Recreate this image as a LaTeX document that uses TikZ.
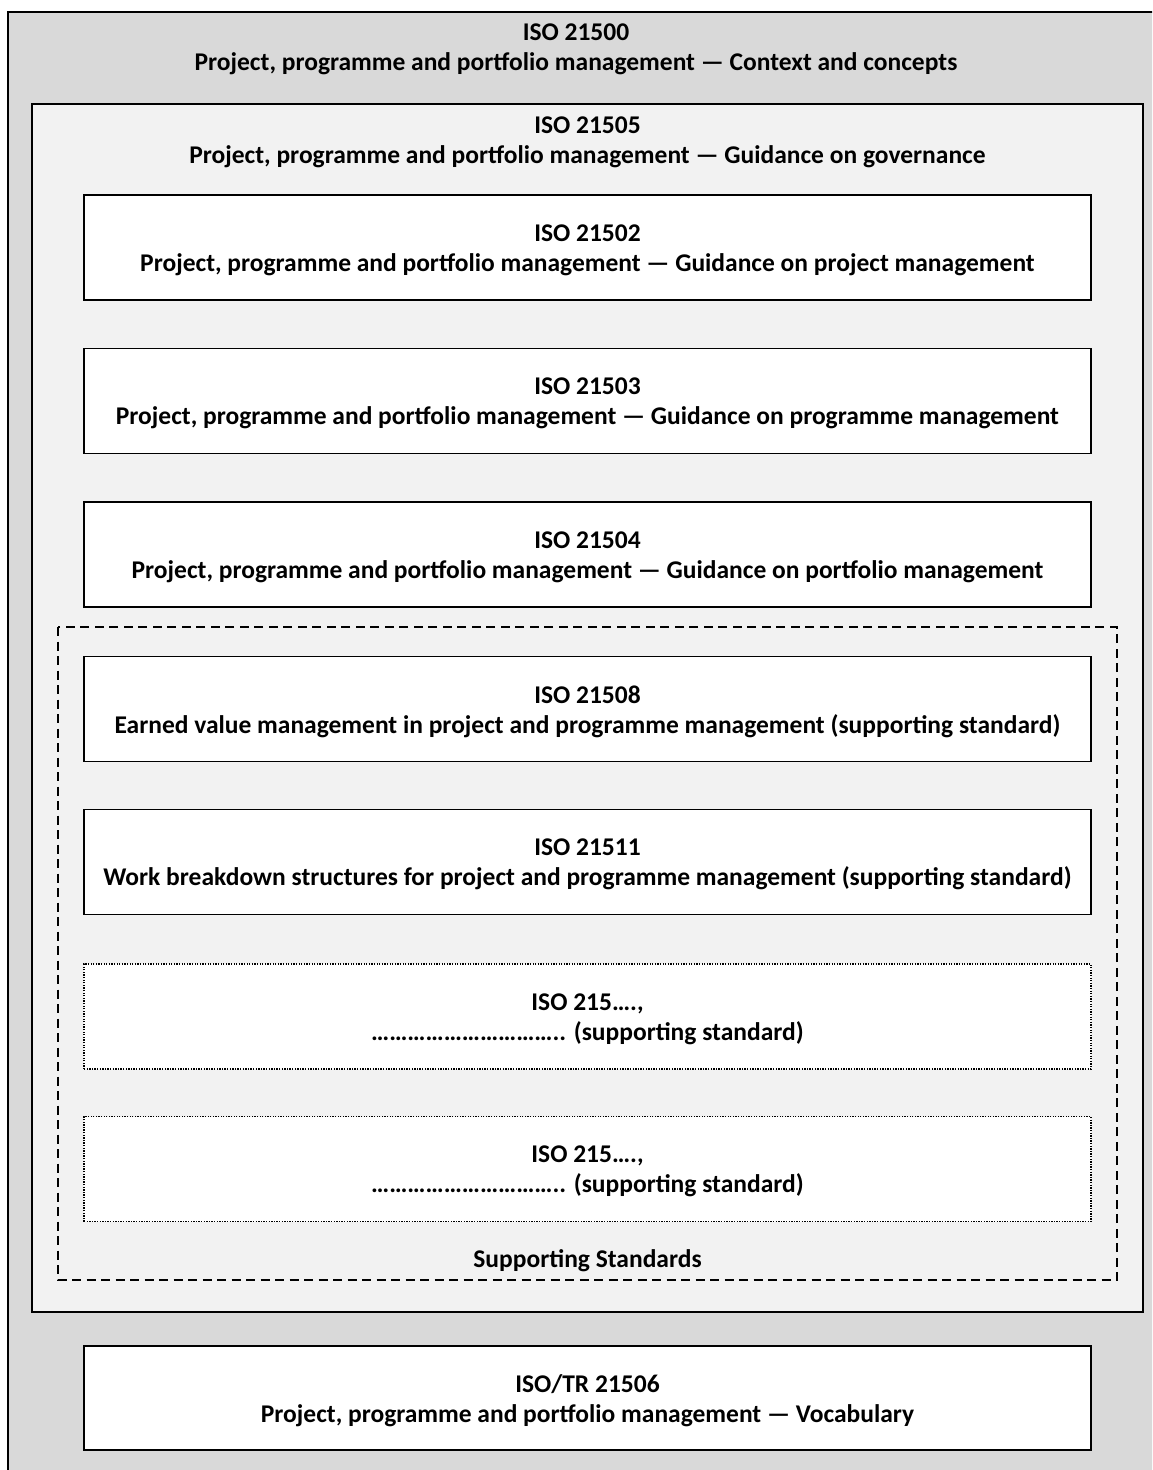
\documentclass[tikz,border=0pt]{standalone}
\usepackage{fontspec}
\setmainfont{Carlito}
\begin{document}
\begin{tikzpicture}[x=1pt,y=-1pt,
  lbl/.style={font=\bfseries\fontsize{25.5}{30}\selectfont, align=center, inner sep=0pt},
  stdbox/.style={draw=black, line width=1.4pt, fill=white, minimum width=1007pt, minimum height=105pt, inner sep=0pt},
  dotbox/.style={stdbox, line width=1.2pt, dash pattern=on 1.3pt off 1.3pt}
]
\useasboundingbox (0,0) rectangle (1152,1470);
\clip (0,0) rectangle (1152,1470);
\fill[white] (0,0) rectangle (1152,1470);
% outer ISO 21500
\draw[line width=1.4pt, fill=black!15] (8,12) rectangle (1170,1490);
\node[lbl] (t21500) at (576,49) {ISO 21500\\Project, programme and portfolio management — Context and concepts};
% ISO 21505
\draw[line width=1.4pt, fill=black!5] (32,104) rectangle (1143,1312);
\node[lbl] (t21505) at (587.5,142.5) {ISO 21505\\Project, programme and portfolio management — Guidance on governance};
% supporting standards dashed
\draw[line width=1.3pt, dash pattern=on 9pt off 5.5pt] (58,627) rectangle (1117,1280);
\node[lbl] (supp) at (587.5,1261) {Supporting Standards};
% boxes
\node[stdbox] (b21502) at (587.5,247.5) {};
\node[stdbox] (b21503) at (587.5,401) {};
\node[stdbox] (b21504) at (587.5,554.5) {};
\node[stdbox] (b21508) at (587.5,709) {};
\node[stdbox] (b21511) at (587.5,862) {};
\node[dotbox] (bx1) at (587.5,1016.5) {};
\node[dotbox] (bx2) at (587.5,1169) {};
\node[stdbox, minimum height=104pt] (b21506) at (587.5,1398) {};
% texts
\node[lbl] (l21502) at ([yshift=-2.5pt]b21502.center) {ISO 21502\\Project, programme and portfolio management — Guidance on project management};
\node[lbl] (l21503) at ([yshift=-2.5pt]b21503.center) {ISO 21503\\Project, programme and portfolio management — Guidance on programme management};
\node[lbl] (l21504) at ([yshift=-2.5pt]b21504.center) {ISO 21504\\Project, programme and portfolio management — Guidance on portfolio management};
\node[lbl] (l21508) at ([yshift=-2.5pt]b21508.center) {ISO 21508\\Earned value management in project and programme management (supporting standard)};
\node[lbl] (l21511) at ([yshift=-2.5pt]b21511.center) {ISO 21511\\Work breakdown structures for project and programme management (supporting standard)};
\node[lbl] (lx1) at ([yshift=-2.5pt]bx1.center) {ISO 215….,\\………………………….. (supporting standard)};
\node[lbl] (lx2) at ([yshift=-2.5pt]bx2.center) {ISO 215….,\\………………………….. (supporting standard)};
\node[lbl] (l21506) at ([yshift=-2.5pt]b21506.center) {ISO/TR 21506\\Project, programme and portfolio management — Vocabulary};
\end{tikzpicture}
\end{document}
